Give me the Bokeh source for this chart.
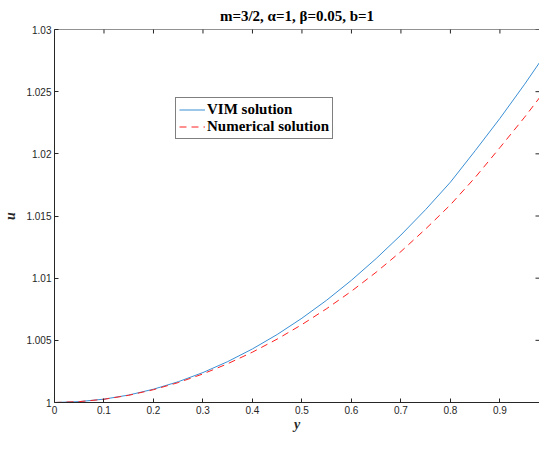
import math
from bokeh.plotting import figure
from bokeh.models import (FixedTicker, Range1d, Legend, LegendItem, Title, Span)
from bokeh.embed import file_html
from bokeh.resources import INLINE

# ---- data ----
y_vals = [0.0, 0.05, 0.1, 0.15, 0.2, 0.25, 0.3, 0.35, 0.4, 0.45, 0.5,
          0.55, 0.6, 0.65, 0.7, 0.75, 0.8, 0.85, 0.9, 0.95, 1.0]
u_vim = [1.0, 1.00007, 1.00027, 1.00060, 1.00107, 1.00167, 1.00241, 1.00329,
         1.00431, 1.00547, 1.00678, 1.00823, 1.00983, 1.01158, 1.01347,
         1.01552, 1.01772, 1.02025, 1.02285, 1.02560, 1.02850]
u_num = [1.0, 1.00007, 1.00026, 1.00058, 1.00103, 1.00160, 1.00230, 1.00312,
         1.00405, 1.00510, 1.00627, 1.00755, 1.00895, 1.01048, 1.01214,
         1.01396, 1.01590, 1.01810, 1.02050, 1.02295, 1.02555]
x_ticks = [0.0, 0.1, 0.2, 0.3, 0.4, 0.5, 0.6, 0.7, 0.8, 0.9]
x_tick_labels = ["0", "0.1", "0.2", "0.3", "0.4", "0.5", "0.6", "0.7", "0.8", "0.9"]
y_ticks = [1.0, 1.005, 1.01, 1.015, 1.02, 1.025, 1.03]
y_tick_labels = ["1", "1.005", "1.01", "1.015", "1.02", "1.025", "1.03"]
title_text = "m=3/2, \u03b1=1, \u03b2=0.05, b=1"
x_label = "y"
y_label = "u"
series_names = ["VIM solution", "Numerical solution"]

X_MAX = 0.98
Y_MIN, Y_MAX = 1.0, 1.03
AX = "#262626"
SANS = "Liberation Sans"
SERIF = "Liberation Serif"

p = figure(width=539, height=434, output_backend="svg", toolbar_location=None,
           x_range=Range1d(0, X_MAX), y_range=Range1d(Y_MIN, Y_MAX),
           min_border_left=10, min_border_right=0, min_border_top=0,
           min_border_bottom=0, outline_line_color=None,
           x_axis_label=x_label, y_axis_label=y_label)
p.title = Title(text=title_text, align="center", text_font=SERIF,
                text_font_size="15px", text_font_style="bold", text_color="#000000",
                offset=0, standoff=11)
p.grid.visible = False

def style_axis(ax):
    ax.axis_line_color = AX
    ax.major_tick_line_color = AX
    ax.major_tick_in = 4
    ax.major_tick_out = 0
    ax.minor_tick_line_color = None
    ax.major_label_text_font = SANS
    ax.major_label_text_font_size = "10px"
    ax.major_label_text_color = AX
    ax.major_label_standoff = 3
    ax.axis_label_text_font = SERIF
    ax.axis_label_text_font_style = "bold italic"
    ax.axis_label_text_font_size = "14px"
    ax.axis_label_text_color = AX

xa = p.xaxis[0]
ya = p.yaxis[0]
style_axis(xa)
style_axis(ya)
xa.ticker = FixedTicker(ticks=x_ticks)
xa.major_label_overrides = dict(zip(x_ticks, x_tick_labels))
ya.ticker = FixedTicker(ticks=y_ticks)
ya.major_label_overrides = dict(zip(y_ticks, y_tick_labels))
xa.axis_label_standoff = 0
ya.axis_label_standoff = 5

# top border and inward ticks on top / right edges (clipped to the frame)
p.add_layout(Span(location=Y_MAX, dimension="width", line_color=AX, line_width=1))
p.scatter(x_ticks, [Y_MAX] * len(x_ticks), marker="dash", size=8, angle=math.pi / 2,
          line_color=AX, line_width=1)
p.scatter([X_MAX] * len(y_ticks), y_ticks, marker="dash", size=8,
          line_color=AX, line_width=1)

r1 = p.line(y_vals, u_vim, line_color="#3A8FD4", line_width=1)
r2 = p.line(y_vals, u_num, line_color="#FF2020", line_width=1, line_dash="7 5")

legend = Legend(items=[LegendItem(label=series_names[0], renderers=[r1]),
                       LegendItem(label=series_names[1], renderers=[r2])],
                location=(121, 263), border_line_color="#000000", border_line_width=1,
                label_text_font=SERIF, label_text_font_style="bold",
                label_text_font_size="15px", label_text_color="#000000",
                glyph_width=26, glyph_height=17, label_height=17,
                label_standoff=2, padding=3, spacing=0, margin=0,
                background_fill_alpha=1.0)
p.add_layout(legend, "center")

open("out.html", "w").write(file_html(p, INLINE))
